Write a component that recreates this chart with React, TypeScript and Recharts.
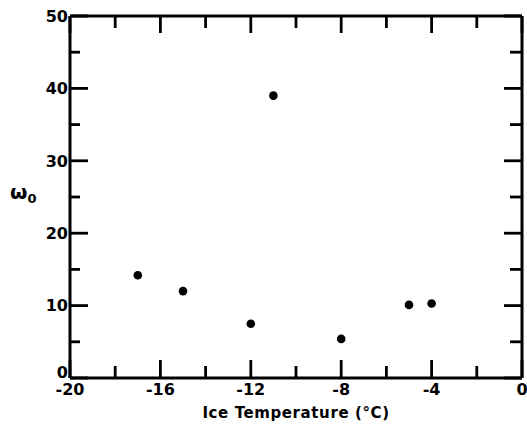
import React from 'react';
import { ScatterChart, Scatter, XAxis, YAxis } from 'recharts';

const temps = [-17, -15, -12, -11, -8, -5, -4];
const omega = [14.2, 12.0, 7.5, 39.0, 5.4, 10.1, 10.3];
const xTicks = [-20, -18, -16, -14, -12, -10, -8, -6, -4, -2, 0];
const yTicks = [0, 5, 10, 15, 20, 25, 30, 35, 40, 45, 50];

const data = temps.map((t, i) => ({ t, w: omega[i] }));

const FONT = '"DejaVu Sans", sans-serif';
const SW = 2.8;

const isMajorX = (v: number) => v % 4 === 0;
const isMajorY = (v: number) => v % 10 === 0;

const BottomTick = (props: any) => {
  const { x, y, payload } = props;
  const v = payload.value;
  const major = isMajorX(v);
  const len = major ? 18 : 12;
  return (
    <g>
      <line x1={x} x2={x} y1={y} y2={y - len} stroke="#000" strokeWidth={SW} />
      {major && (
        <text x={x} y={y + 17} textAnchor="middle" fontFamily={FONT} fontWeight="bold" fontSize={16} fill="#000">
          {v === 0 ? '0' : `-${Math.abs(v)}`}
        </text>
      )}
    </g>
  );
};

const TopTick = (props: any) => {
  const { x, y, payload } = props;
  const len = isMajorX(payload.value) ? 17 : 12;
  return <line x1={x} x2={x} y1={y} y2={y + len} stroke="#000" strokeWidth={SW} />;
};

const LeftTick = (props: any) => {
  const { x, y, payload } = props;
  const v = payload.value;
  const major = isMajorY(v);
  const len = major ? 18 : 10;
  return (
    <g>
      <line x1={x} x2={x + len} y1={y} y2={y} stroke="#000" strokeWidth={SW} />
      {major && (
        <text x={x - 2} y={v === 0 ? y - 6 : y} dy="0.36em" textAnchor="end" fontFamily={FONT} fontWeight="bold" fontSize={16} fill="#000">
          {v}
        </text>
      )}
    </g>
  );
};

const RightTick = (props: any) => {
  const { x, y, payload } = props;
  const len = isMajorY(payload.value) ? 18 : 12;
  return <line x1={x} x2={x - len} y1={y} y2={y} stroke="#000" strokeWidth={SW} />;
};

const XTitle = (props: any) => {
  const vb = props.viewBox || {};
  return (
    <text x={vb.x + vb.width / 2} y={418} textAnchor="middle" fontFamily={FONT} fontWeight="bold" fontSize={15} letterSpacing={0.6} fill="#000">
      Ice Temperature (°C)
    </text>
  );
};

const YTitle = () => {
  return (
    <text x={10} y={199} fontFamily={FONT} fontWeight="bold" fill="#000">
      <tspan fontSize={20}>ω</tspan>
      <tspan fontSize={13} dy={4}>0</tspan>
    </text>
  );
};

const Dot = (props: any) => {
  const { cx, cy } = props;
  return <circle cx={cx} cy={cy} r={4.3} fill="#000" />;
};

const NoDot = () => null;

export default function App() {
  return (
    <div style={{ position: 'absolute', left: 0, top: 0, background: '#fff' }}>
      <ScatterChart width={527} height={426} margin={{ top: 15, right: 4, bottom: 0, left: 0 }}>
        <XAxis
          xAxisId="b"
          dataKey="t"
          type="number"
          domain={[-20, 0]}
          ticks={xTicks}
          interval={0}
          height={48}
          tickLine={false}
          tickSize={0}
          tickMargin={0}
          tick={<BottomTick />}
          axisLine={{ stroke: '#000', strokeWidth: 3 }}
          label={<XTitle />}
        />
        <XAxis
          xAxisId="t"
          dataKey="t"
          orientation="top"
          type="number"
          domain={[-20, 0]}
          ticks={xTicks}
          interval={0}
          height={1}
          tickLine={false}
          tickSize={0}
          tickMargin={0}
          tick={<TopTick />}
          axisLine={{ stroke: '#000', strokeWidth: 3 }}
        />
        <YAxis
          yAxisId="l"
          dataKey="w"
          type="number"
          domain={[0, 50]}
          ticks={yTicks}
          interval={0}
          width={70}
          tickLine={false}
          tickSize={0}
          tickMargin={0}
          tick={<LeftTick />}
          axisLine={{ stroke: '#000', strokeWidth: 3 }}
          label={<YTitle />}
        />
        <YAxis
          yAxisId="r"
          dataKey="w"
          orientation="right"
          type="number"
          domain={[0, 50]}
          ticks={yTicks}
          interval={0}
          width={1}
          tickLine={false}
          tickSize={0}
          tickMargin={0}
          tick={<RightTick />}
          axisLine={{ stroke: '#000', strokeWidth: 3 }}
        />
        <Scatter xAxisId="t" yAxisId="r" data={data} shape={<NoDot />} isAnimationActive={false} />
        <Scatter xAxisId="b" yAxisId="l" data={data} shape={<Dot />} isAnimationActive={false} />
      </ScatterChart>
    </div>
  );
}
